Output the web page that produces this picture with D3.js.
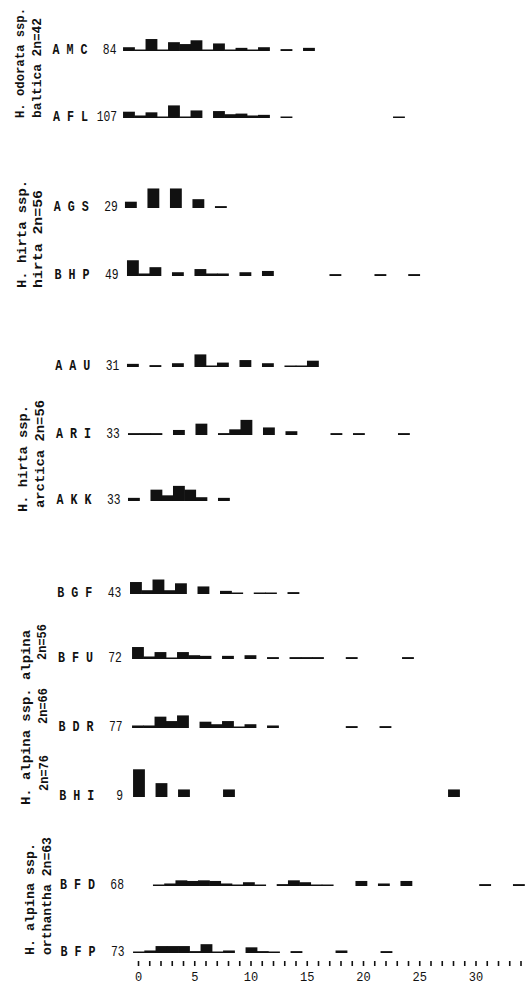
<!DOCTYPE html>
<html>
<head>
<meta charset="utf-8">
<script src="https://d3js.org/d3.v7.min.js"></script>
<style>
  body { margin: 0; background: #fff; }
  svg { display: block; }
</style>
</head>
<body>
<script>

//******************************************************************************
// Data ************************************************************************

    var rowCodes = ["A M C", "A F L", "A G S", "B H P", "A A U", "A R I", "A K K",
                    "B G F", "B F U", "B D R", "B H I", "B F D", "B F P"];

    var sampleN = [84, 107, 29, 49, 31, 33, 33, 43, 72, 77, 9, 68, 73];

    var binStart = [-1.33, -1.33, -1.16, -0.98, -0.98, -0.89, -0.89,
                    -0.71, -0.53, -0.53, -0.44, 1.33, -0.44]; // first bin of each row (axis units)

    // % of the sample in each unit bin, from binStart onwards
    var percents = [
      [6, 1, 19, 1, 14, 11, 17, 1, 12, 1, 5, 1, 6, 0, 3, 0, 5],
      [10, 4, 9, 1, 20, 2, 12, 0, 11, 6, 7, 4, 5, 0, 2, 0, 0, 0, 0, 0, 0, 0, 0, 0, 2],
      [10, 0, 31, 0, 31, 0, 14, 0, 3],
      [25, 4, 14, 0, 6, 0, 11, 4, 4, 0, 6, 0, 8, 0, 0, 0, 0, 0, 3, 0, 0, 0, 3, 0, 0, 3],
      [5, 0, 3, 0, 6, 0, 20, 2, 7, 0, 11, 0, 6, 0, 2, 2, 10],
      [3, 3, 3, 0, 8, 0, 18, 0, 3, 9, 24, 0, 12, 0, 6, 0, 0, 0, 3, 0, 3, 0, 0, 0, 3],
      [5, 0, 18, 9, 24, 18, 6, 0, 5],
      [19, 6, 23, 6, 17, 0, 12, 0, 5, 2, 0, 2, 2, 0, 3],
      [19, 4, 11, 2, 11, 6, 5, 0, 5, 0, 6, 0, 3, 0, 3, 3, 3, 0, 0, 3, 0, 0, 0, 0, 3],
      [4, 4, 18, 11, 20, 0, 10, 6, 11, 2, 6, 0, 4, 0, 0, 0, 0, 0, 0, 3, 0, 0, 3],
      [44, 0, 22, 0, 12, 0, 0, 0, 12, 0, 0, 0, 0, 0, 0, 0, 0, 0, 0, 0, 0, 0, 0, 0, 0, 0, 0, 0, 12],
      [2, 4, 9, 8, 9, 8, 4, 2, 6, 2, 0, 3, 9, 6, 2, 2, 0, 0, 8, 0, 4, 0, 8, 0, 0, 0, 0, 0, 0, 3, 0, 0, 3],
      [2, 4, 11, 11, 11, 3, 14, 2, 4, 0, 9, 3, 2, 0, 3, 0, 0, 0, 4, 0, 0, 0, 3]
    ];

    var axisTicks = d3.range(0, 35);
    var axisLabels = [0, 5, 10, 15, 20, 25, 30];

    var taxonLines = ["H. odorata ssp.", "baltica 2n=42",
                      "H. hirta ssp.", "hirta 2n=56",
                      "H. hirta ssp.", "arctica 2n=56",
                      "H. alpina ssp. alpina", "2n=56", "2n=66", "2n=76",
                      "H. alpina ssp.", "orthantha 2n=63"];


//******************************************************************************
// Settings ********************************************************************

    var windowSettings = {
        width : 532,//px
        height : 984,//px
        ink : "#111",
        font : "'Liberation Mono', 'DejaVu Sans Mono', monospace",
    };

    var graphSettings = {
        rowY : [51, 118, 208, 276, 367, 435, 501, 594, 659, 728, 797, 886, 953], // baseline of each row
        skew : 0.009, // scan is slightly tilted: x drift per px of y
        codeX : 52,
        countX : 116,
        countPitch : 6.8, // px per digit of the sample size
        x0 : 138, // px of value 0
        unit : 11.25, // px per unit
        pxPerPercent : 0.63,
        minBar : 1.5,
        axisY : 961,
    };

    // x centre of the glyph column, bottom y, top y of each vertical line
    var taxonLayout = [
        [20, 118, 8], [37, 118, 18],
        [22, 288, 180], [38, 288, 190],
        [23, 512, 405], [40, 508, 400],
        [26, 805, 630], [42, 660, 624], [43, 724, 688], [44, 791, 755],
        [30, 955, 843], [47, 955, 837]
    ];


//******************************************************************************
// Initialization **************************************************************

    var svg = d3.select("body").append("svg")
        .attr("width", windowSettings.width)
        .attr("height", windowSettings.height)
        .style("background", "#fff");

    var x = d3.scaleLinear()
        .domain([0, 35])
        .range([graphSettings.x0, graphSettings.x0 + 35 * graphSettings.unit]);

    var h = d3.scaleLinear()
        .domain([0, 50])
        .range([0, 50 * graphSettings.pxPerPercent]);


//******************************************************************************
// Prog ************************************************************************

    addTaxonLabels();
    addRows();
    addAxis();


//******************************************************************************
// Functions *******************************************************************

    function addTaxonLabels(){ // rotated species names on the left
        taxonLines.forEach(function(t, i){
            var l = taxonLayout[i];
            var bx = l[0] + 4;
            svg.append("text")
                .attr("x", bx)
                .attr("y", l[1])
                .attr("transform", "rotate(-90," + bx + "," + l[1] + ")")
                .attr("textLength", l[1] - l[2])
                .attr("lengthAdjust", "spacingAndGlyphs")
                .style("font-family", windowSettings.font)
                .style("font-weight", "bold")
                .style("font-size", "12px")
                .style("fill", windowSettings.ink)
                .text(t);
        });
    }


    function addRows(){ // code, sample size and histogram of each row
        rowCodes.forEach(function(code, i){
            var y = graphSettings.rowY[i];
            var drift = graphSettings.skew * y;
            var label = String(sampleN[i]);

            svg.append("text")
                .attr("x", graphSettings.codeX + drift)
                .attr("y", y + 3)
                .attr("textLength", 35)
                .attr("lengthAdjust", "spacingAndGlyphs")
                .style("font-family", windowSettings.font)
                .style("font-weight", "bold")
                .style("font-size", "14px")
                .style("fill", windowSettings.ink)
                .text(code);

            svg.append("text")
                .attr("x", graphSettings.countX + drift - label.length * graphSettings.countPitch)
                .attr("y", y + 3)
                .attr("textLength", label.length * graphSettings.countPitch)
                .attr("lengthAdjust", "spacingAndGlyphs")
                .style("font-family", windowSettings.font)
                .style("font-size", "14px")
                .style("fill", windowSettings.ink)
                .text(label);

            var bins = percents[i]
                .map(function(p, j){ return { v : binStart[i] + j, p : p }; })
                .filter(function(d){ return d.p > 0; });

            svg.append("g")
                .selectAll("rect")
                .data(bins)
                .join("rect")
                .attr("x", function(d){ return x(d.v); })
                .attr("width", function(d){ return x(d.v + 1) - x(d.v) + 0.6; })
                .attr("y", function(d){ return y - Math.max(graphSettings.minBar, h(d.p)); })
                .attr("height", function(d){ return Math.max(graphSettings.minBar, h(d.p)); })
                .attr("fill", windowSettings.ink);
        });
    }


    function addAxis(){ // dotted scale at the bottom
        var axis = d3.axisBottom(x)
            .tickValues(axisTicks)
            .tickSize(5)
            .tickPadding(6)
            .tickFormat(function(d){ return axisLabels.indexOf(d) >= 0 ? d : ""; });

        var g = svg.append("g")
            .attr("transform", "translate(0," + graphSettings.axisY + ")")
            .call(axis);

        g.select(".domain").remove();
        g.selectAll(".tick line")
            .attr("stroke", windowSettings.ink)
            .attr("stroke-width", 1.6);
        g.selectAll(".tick text")
            .style("font-family", windowSettings.font)
            .style("font-size", "12px")
            .style("fill", windowSettings.ink);
    }

</script>
</body>
</html>
